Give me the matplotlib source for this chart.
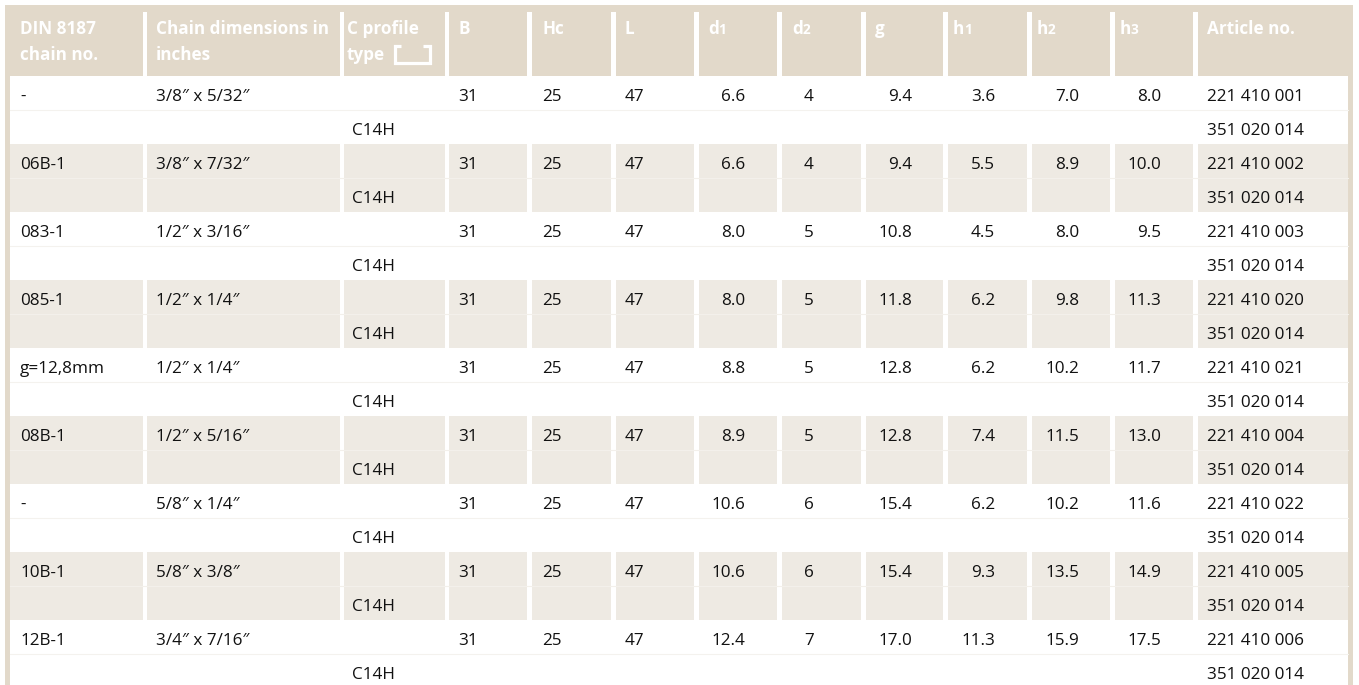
import matplotlib
matplotlib.use("Agg")
import matplotlib.pyplot as plt
from matplotlib.patches import Rectangle

plt.rcParams['font.family'] = ['Open Sans', 'DejaVu Sans']

# ---------------- data ----------------
chain_no = ['-', '06B-1', '083-1', '085-1', 'g=12,8mm', '08B-1', '-', '10B-1', '12B-1']
chain_dim = ['3/8\u2033 x 5/32\u2033', '3/8\u2033 x 7/32\u2033', '1/2\u2033 x 3/16\u2033',
             '1/2\u2033 x 1/4\u2033', '1/2\u2033 x 1/4\u2033', '1/2\u2033 x 5/16\u2033',
             '5/8\u2033 x 1/4\u2033', '5/8\u2033 x 3/8\u2033', '3/4\u2033 x 7/16\u2033']
profile = ['C14H'] * 9
B = [31, 31, 31, 31, 31, 31, 31, 31, 31]
Hc = [25, 25, 25, 25, 25, 25, 25, 25, 25]
L = [47, 47, 47, 47, 47, 47, 47, 47, 47]
d1 = [6.6, 6.6, 8.0, 8.0, 8.8, 8.9, 10.6, 10.6, 12.4]
d2 = [4, 4, 5, 5, 5, 5, 6, 6, 7]
g = [9.4, 9.4, 10.8, 11.8, 12.8, 12.8, 15.4, 15.4, 17.0]
h1 = [3.6, 5.5, 4.5, 6.2, 6.2, 7.4, 6.2, 9.3, 11.3]
h2 = [7.0, 8.9, 8.0, 9.8, 10.2, 11.5, 10.2, 13.5, 15.9]
h3 = [8.0, 10.0, 9.5, 11.3, 11.7, 13.0, 11.6, 14.9, 17.5]
article_1 = ['221 410 001', '221 410 002', '221 410 003', '221 410 020', '221 410 021',
             '221 410 004', '221 410 022', '221 410 005', '221 410 006']
article_2 = ['351 020 014'] * 9

headers = [('DIN 8187', 'chain no.'), ('Chain dimensions in', 'inches'), ('C profile', 'type'),
           ('B', ''), ('Hc', ''), ('L', ''), ('d', '1'), ('d', '2'), ('g', ''),
           ('h', '1'), ('h', '2'), ('h', '3'), ('Article no.', '')]

# ---------------- layout ----------------
W, H = 1359, 685
HEAD = '#E2D9CA'
SHADE = '#EEEAE3'
TXT = '#111111'
MID_W = '#F4F2EE'
MID_S = '#F3F0EB'
FS = 12.3

cols = [(10, 143), (147, 340), (344, 445), (449, 527), (532, 611), (616, 694),
        (699, 777), (782, 861), (866, 943), (948, 1027), (1032, 1110), (1115, 1193),
        (1198, 1348)]
head_x = [20, 156, 347, 458, 542, 625, 708, 792, 875, 953, 1037, 1120, 1207]
top, head_bot = 5, 76
row_h = 68

fig = plt.figure(figsize=(W / 100, H / 100), dpi=100)
ax = fig.add_axes([0, 0, 1, 1])
ax.set_xlim(0, W)
ax.set_ylim(H, 0)
ax.axis('off')

# header background
ax.add_patch(Rectangle((5, top), 1348, head_bot - top, color=HEAD, lw=0))
for i in range(1, len(cols)):
    x0 = cols[i - 1][1]
    x1 = cols[i][0]
    ax.add_patch(Rectangle((x0, 12), x1 - x0, head_bot - 12, color='white', lw=0))

fig.canvas.draw()
rend = fig.canvas.get_renderer()
HW = 'bold'


def put_sub(x, y, main, sub):
    t = ax.text(x, y, main, fontsize=FS, fontweight=HW, color='white', va='baseline', ha='left')
    bb = t.get_window_extent(renderer=rend)
    inv = ax.transData.inverted()
    xe = inv.transform((bb.x1, bb.y0))[0]
    ax.text(xe - 0.5, y, sub, fontsize=FS * 0.8, fontweight=HW, color='white',
            va='baseline', ha='left')


for j, (l1, l2) in enumerate(headers):
    if j in (6, 7, 9, 10, 11):
        put_sub(head_x[j], 34, l1, l2)
    else:
        ax.text(head_x[j], 34, l1, fontsize=FS, fontweight=HW, color='white', va='baseline')
        if l2:
            ax.text(head_x[j], 60, l2, fontsize=FS, fontweight=HW, color='white', va='baseline')

# C-profile icon
ax.plot([401, 394.5, 394.5, 429.5, 429.5, 423], [46, 46, 63, 63, 46, 46],
        color='white', lw=2.3, solid_joinstyle='miter', solid_capstyle='butt')

# rows
n = len(chain_no)
for i in range(n):
    y0 = head_bot + i * row_h
    ax.add_patch(Rectangle((5, y0), 5, row_h, color=HEAD, lw=0))
    ax.add_patch(Rectangle((1348, y0), 5, row_h, color=HEAD, lw=0))
    shaded = (i % 2 == 1)
    if shaded:
        for (a, b) in cols:
            ax.add_patch(Rectangle((a, y0), b - a, row_h, color=SHADE, lw=0))
    ax.plot([10, 1348], [y0 + 34, y0 + 34], color=MID_S if shaded else MID_W, lw=0.8)

    b1 = y0 + 25
    b2 = y0 + 59
    kw = dict(fontsize=FS, color=TXT, va='baseline')
    ax.text(20, b1, chain_no[i], ha='left', **kw)
    ax.text(156, b1, chain_dim[i], ha='left', **kw)
    ax.text(352, b2, profile[i], ha='left', **kw)
    ax.text(458, b1, str(B[i]), ha='left', **kw)
    ax.text(542, b1, str(Hc[i]), ha='left', **kw)
    ax.text(625, b1, str(L[i]), ha='left', **kw)
    ax.text(745, b1, f'{d1[i]:.1f}', ha='right', **kw)
    ax.text(814, b1, str(d2[i]), ha='right', **kw)
    ax.text(912, b1, f'{g[i]:.1f}', ha='right', **kw)
    ax.text(995, b1, f'{h1[i]:.1f}', ha='right', **kw)
    ax.text(1079, b1, f'{h2[i]:.1f}', ha='right', **kw)
    ax.text(1161, b1, f'{h3[i]:.1f}', ha='right', **kw)
    ax.text(1207, b1, article_1[i], ha='left', **kw)
    ax.text(1207, b2, article_2[i], ha='left', **kw)

fig.savefig('out.png', dpi=100)
